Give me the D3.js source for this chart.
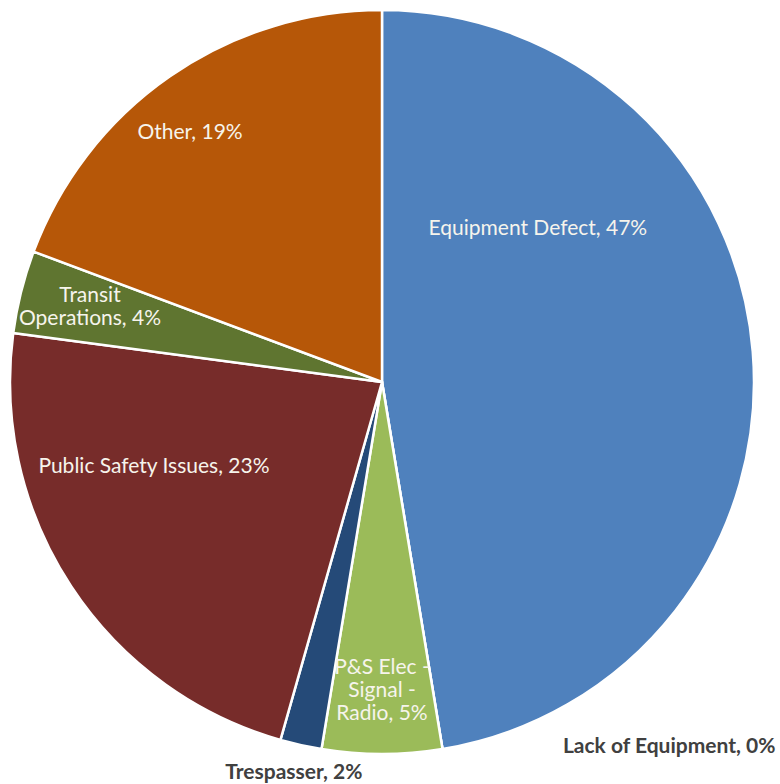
<!DOCTYPE html>
<html>
<head>
<meta charset="utf-8">
<script src="https://cdn.jsdelivr.net/npm/d3@7"></script>
<style>
  body { margin: 0; background: #fff; }
  svg text { font-family: Lato, "Open Sans", sans-serif; }
</style>
</head>
<body>
<div class="vis"></div>
<script>
// slice data, clockwise from 12 o'clock
const categories = ["Equipment Defect", "Lack of Equipment", "P&S Elec - Signal - Radio",
                    "Trespasser", "Public Safety Issues", "Transit Operations", "Other"];
const values = [47.4, 0, 5.2, 1.8, 22.7, 3.6, 19.3];
const colors = ["#4f81bd", "#c0504d", "#9bbb59", "#254a78", "#772c2a", "#5f7530", "#b65708"];

// label placement, as fractions of radius from centre, plus wrap width and inside/outside
const labelPos = [[0.419, -0.416], [0.772, 0.978], [0, 0.828], [-0.237, 1.048],
                  [-0.613, 0.226], [-0.785, -0.205], [-0.516, -0.672]];
const labelWrap = [99, 99, 10, 99, 99, 14, 99];
const labelInside = [true, false, true, false, true, true, true];

const W = 780, H = 784, cx = 382, cy = 382, R = 372;

const svg = d3.select(".vis").append("svg")
  .attr("width", W).attr("height", H);
const g = svg.append("g").attr("transform", `translate(${cx}, ${cy})`);

const data = categories.map((c, i) => ({ cat: c, value: values[i], i }));
const total = d3.sum(values);

const pie = d3.pie().value(d => d.value).sort(null);
const arc = d3.arc().innerRadius(0).outerRadius(R);

g.selectAll("path.slice")
  .data(pie(data))
  .join("path")
  .attr("class", "slice")
  .attr("d", arc)
  .attr("fill", d => colors[d.data.i])
  .attr("stroke", "#fff")
  .attr("stroke-width", 2.5)
  .attr("stroke-linejoin", "round");

const wrap = (text, max) => {
  let lines = [], cur = "";
  text.split(" ").forEach(w => {
    if (cur && (cur + " " + w).length > max) { lines.push(cur); cur = w; }
    else cur = cur ? cur + " " + w : w;
  });
  lines.push(cur);
  return lines;
}

const lh = 23;
data.forEach(d => {
  const pct = Math.round(d.value / total * 100);
  const lines = wrap(`${d.cat}, ${pct}%`, labelWrap[d.i]);
  const [fx, fy] = labelPos[d.i];
  const t = g.append("text")
    .attr("text-anchor", "middle")
    .attr("font-size", 21)
    .attr("font-weight", labelInside[d.i] ? 400 : 700)
    .attr("fill", labelInside[d.i] ? "#f6f4ec" : "#404040")
    .attr("transform", `translate(${fx * R}, ${fy * R})`);
  lines.forEach((l, k) => {
    t.append("tspan")
      .attr("x", 0)
      .attr("y", (k - (lines.length - 1) / 2) * lh)
      .attr("dy", "0.35em")
      .text(l);
  });
});
</script>
</body>
</html>
